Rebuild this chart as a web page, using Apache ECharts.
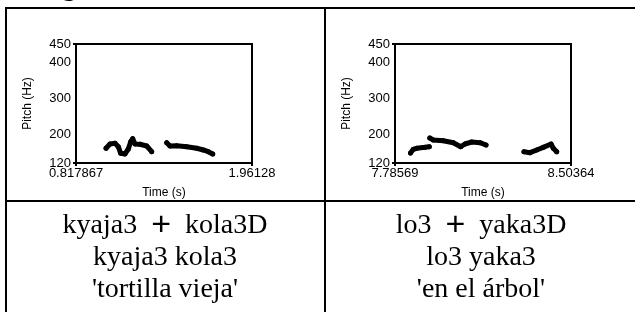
<!DOCTYPE html>
<html style="height: 100%">
<head>
    <meta charset="utf-8">
    <title>Pitch tracks</title>
    <script type="text/javascript" src="https://cdn.jsdelivr.net/npm/echarts@6/dist/echarts.min.js"></script>
</head>
<body style="width: 100%;margin: 0;height: 100%;background: #fff">
<div id="container" style="width: 635px;height: 312px"></div>

<script type="application/javascript">

    // left word: kyaja3 + kola3D
    var leftRange = [0.817867, 1.96128];
    var leftLabels = ['0.817867', '1.96128'];
    var leftTime = [1.0128, 1.0388, 1.0713, 1.0927, 1.1083, 1.1362, 1.1577, 1.1733, 1.1863, 1.2012, 1.2337, 1.2772, 1.3097,
        null,
        1.4071, 1.4286, 1.4721, 1.5371, 1.6020, 1.6449, 1.6774, 1.7060];
    var leftPitch = [160.8, 172.7, 174.6, 165.2, 146.9, 145, 158.8, 179.1, 187.4, 172.7, 171.9, 167.1, 151.3,
        null,
        176.3, 167.1, 168, 165.2, 160.8, 156.1, 151.3, 145];

    // right word: lo3 + yaka3D
    var rightRange = [7.78569, 8.50364];
    var rightLabels = ['7.78569', '8.50364'];
    var rightTime = [7.8489, 7.8604, 7.8742, 7.9081, 7.9256,
        null,
        7.9277, 7.9419, 7.9827, 8.0235, 8.0537, 8.0712, 8.0986, 8.1324, 8.1569,
        null,
        8.3119, 8.3364, 8.3637, 8.3906, 8.4221, 8.4315, 8.4453];
    var rightPitch = [147.7, 158, 160.8, 163.5, 165.2,
        null,
        189.3, 183.8, 181.8, 176.3, 165.2, 172.7, 178.2, 176.3, 169.9,
        null,
        151.3, 148.6, 156.1, 163.5, 172.7, 160.8, 151.3];

    var pitchTicks = [120, 200, 300, 400, 450];
    var pitchRange = [120, 450];

    // caption lines: [before plus, after plus] for the first line
    var leftCaption = [['kyaja3', 'kola3D'], 'kyaja3 kola3', "'tortilla vieja'"];
    var rightCaption = [['lo3', 'yaka3D'], 'lo3 yaka3', "'en el árbol'"];

    function pairs(xs, ys) {
        var out = [];
        for (var i = 0; i < xs.length; i++) {
            out.push(xs[i] === null ? [null, null] : [xs[i], ys[i]]);
        }
        return out;
    }

    var tickFont = {color: '#000', fontFamily: 'Liberation Sans', fontSize: 13};
    var nameFont = {color: '#000', fontFamily: 'Liberation Sans', fontSize: 12};

    function makeX(idx, range, labels) {
        return {
            gridIndex: idx, type: 'value', min: range[0], max: range[1],
            name: 'Time (s)', nameLocation: 'middle', nameGap: 24,
            nameTextStyle: nameFont,
            axisLine: {show: true, lineStyle: {color: '#000', width: 2}},
            axisTick: {show: true, length: 3, lineStyle: {color: '#000', width: 2},
                customValues: range},
            axisLabel: Object.assign({customValues: range, margin: 4,
                formatter: function (v) { return v === range[0] ? labels[0] : labels[1]; }}, tickFont),
            splitLine: {show: false}
        };
    }

    function makeY(idx) {
        return {
            gridIndex: idx, type: 'value', min: pitchRange[0], max: pitchRange[1],
            name: 'Pitch (Hz)', nameLocation: 'middle', nameGap: 42,
            nameTextStyle: nameFont,
            axisLine: {show: true, lineStyle: {color: '#000', width: 2}},
            axisTick: {show: true, length: 3, lineStyle: {color: '#000', width: 2},
                customValues: [pitchRange[0], pitchRange[1]]},
            axisLabel: Object.assign({customValues: pitchTicks, margin: 5}, tickFont),
            splitLine: {show: false}
        };
    }

    function makeSeries(idx, data) {
        return {
            type: 'line', xAxisIndex: idx, yAxisIndex: idx, data: data,
            connectNulls: false, symbol: 'circle', symbolSize: 5, showSymbol: true,
            itemStyle: {color: '#000'},
            lineStyle: {color: '#000', width: 5, cap: 'round', join: 'round'},
            animation: false
        };
    }

    function captionText(lines, cx) {
        var out = [];
        var ys = [226, 258, 290];
        for (var i = 0; i < lines.length; i++) {
            var txt = Array.isArray(lines[i])
                ? lines[i][0] + '  {p|+}  ' + lines[i][1]
                : lines[i];
            out.push({
                type: 'text', x: cx, y: ys[i],
                style: {
                    text: txt, fill: '#000', fontFamily: 'Liberation Serif', fontSize: 28,
                    align: 'center', verticalAlign: 'middle',
                    rich: {p: {fontFamily: 'Liberation Sans', fontSize: 34, fill: '#000'}}
                }
            });
        }
        return out;
    }

    var borders = [
        {type: 'line', shape: {x1: 6, y1: 8, x2: 640, y2: 8}},
        {type: 'line', shape: {x1: 6, y1: 7, x2: 6, y2: 312}},
        {type: 'line', shape: {x1: 325, y1: 8, x2: 325, y2: 312}},
        {type: 'line', shape: {x1: 6, y1: 201, x2: 640, y2: 201}}
    ];
    borders.forEach(function (b) { b.style = {stroke: '#000', lineWidth: 2}; });

    var graphics = borders
        .concat(captionText(leftCaption, 165))
        .concat(captionText(rightCaption, 481));
    // tail of a heading cut off above the table
    graphics.push({
        type: 'text', x: 48, y: 1.5,
        style: {text: 'ng', fill: '#000', fontFamily: 'Liberation Serif', fontSize: 28,
            align: 'left', verticalAlign: 'bottom'}
    });

    var dom = document.getElementById("container");
    var myChart = echarts.init(dom);

    var option = {
        animation: false,
        grid: [
            {left: 76, top: 44, width: 176, height: 119, show: true, borderColor: '#000', borderWidth: 2},
            {left: 395, top: 44, width: 176, height: 119, show: true, borderColor: '#000', borderWidth: 2}
        ],
        xAxis: [makeX(0, leftRange, leftLabels), makeX(1, rightRange, rightLabels)],
        yAxis: [makeY(0), makeY(1)],
        series: [
            makeSeries(0, pairs(leftTime, leftPitch)),
            makeSeries(1, pairs(rightTime, rightPitch))
        ],
        graphic: graphics
    };

    myChart.setOption(option);
</script>

</body>
</html>
